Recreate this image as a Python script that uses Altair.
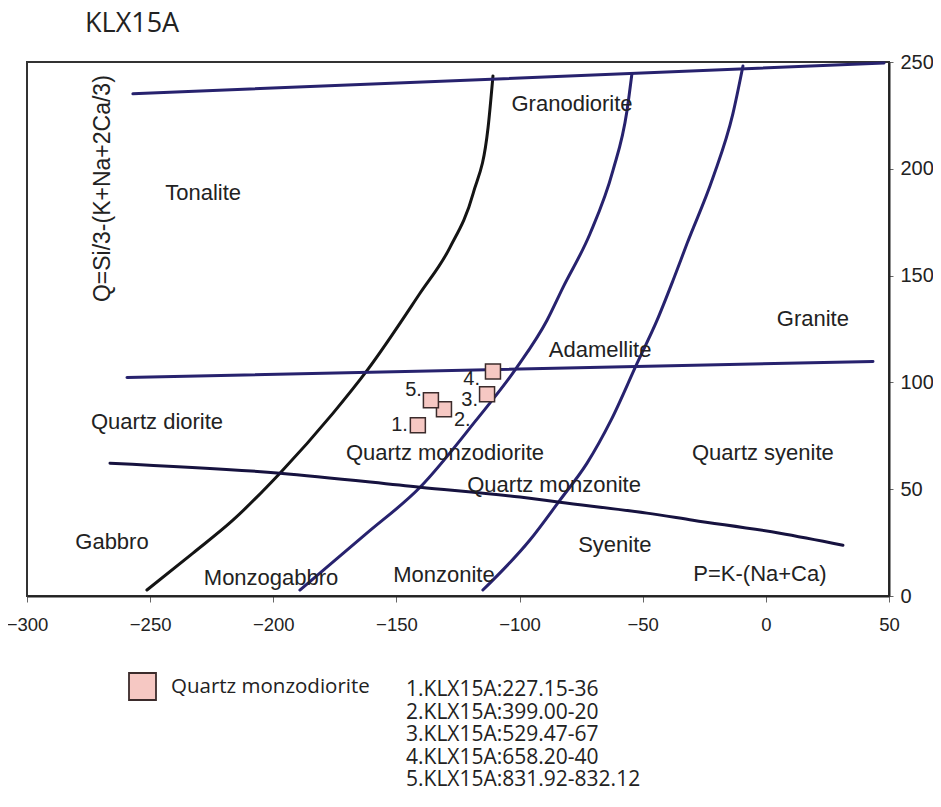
import altair as alt
import pandas as pd

# ---- boundary curves (data coordinates) ----
black_x = [-251.3, -232.6, -216.4, -197.3, -175.8, -161.9, -140.5, -128.3, -118.9, -112.8, -110.8]
black_y = [2.8, 20.1, 35.5, 57.5, 85.5, 105.6, 141.6, 163.1, 188.3, 219.2, 243.5]
navy1_x = [-189.2, -162.0, -140.4, -117.7, -101.1, -88.9, -82.4, -71.4, -62.1, -56.4, -54.4]
navy1_y = [2.8, 29.4, 50.9, 82.2, 107.0, 129.0, 144.4, 169.6, 199.1, 227.1, 244.4]
navy2_x = [-114.9, -95.8, -83.6, -72.6, -62.9, -52.3, -44.2, -37.7, -32.0, -21.5, -13.4, -9.3]
navy2_y = [2.8, 26.2, 44.9, 62.2, 82.2, 108.9, 129.0, 147.7, 165.0, 195.8, 225.7, 248.1]
lower_x = [-266.3, -197.3, -140.4, -99.8, -83.6, -48.3, -29.6, 5.7, 31.3]
lower_y = [62.2, 57.5, 50.9, 46.3, 43.9, 38.8, 35.5, 29.4, 23.8]
top_x = [-257.0, 48.0]
top_y = [235.1, 249.5]
mid_x = [-259.4, 43.5]
mid_y = [102.3, 109.8]

# ---- samples ----
sample_id = ["1.", "2.", "3.", "4.", "5."]
sample_x = [-141.3, -130.7, -113.2, -110.8, -136.0]
sample_y = [79.9, 87.4, 94.4, 105.1, 91.6]
sample_names = ["1.KLX15A:227.15-36", "2.KLX15A:399.00-20", "3.KLX15A:529.47-67",
                "4.KLX15A:658.20-40", "5.KLX15A:831.92-832.12"]
rock_type = "Quartz monzodiorite"
chart_title = "KLX15A"
y_title = "Q=Si/3-(K+Na+2Ca/3)"

# ---- field labels ----
region_names = ["Granodiorite", "Tonalite", "Granite", "Adamellite", "Quartz diorite",
                "Quartz monzodiorite", "Quartz syenite", "Quartz monzonite", "Gabbro",
                "Syenite", "Monzogabbro", "Monzonite", "P=K-(Na+Ca)"]
region_x = [-78.7, -228.5, 19.1, -67.3, -247.2, -130.3, -1.2, -86.0, -265.5, -61.3, -200.9, -130.7, -2.4]
region_y = [230.4, 188.8, 129.9, 115.4, 81.3, 66.8, 66.8, 51.9, 25.2, 23.8, 8.4, 9.8, 10.3]

x_ticks = [-300, -250, -200, -150, -100, -50, 0, 50]
y_ticks = [0, 50, 100, 150, 200, 250]

curves = [("black", black_x, black_y), ("navy1", navy1_x, navy1_y), ("navy2", navy2_x, navy2_y),
          ("lower", lower_x, lower_y), ("top", top_x, top_y), ("mid", mid_x, mid_y)]
rows = []
for name, xs, ys in curves:
    for i, (a, b) in enumerate(zip(xs, ys)):
        rows.append({"curve": name, "i": i, "x": a, "y": b})
lines_df = pd.DataFrame(rows)
curve_colors = ["#141414", "#27226e", "#27226e", "#16123f", "#27226e", "#27226e"]

pts_df = pd.DataFrame({"id": sample_id, "x": sample_x, "y": sample_y, "rock": [rock_type] * 5})
reg_df = pd.DataFrame({"name": region_names, "x": region_x, "y": region_y})

X = alt.X("x:Q", scale=alt.Scale(domain=[-300, 50], nice=False, zero=False),
          axis=alt.Axis(values=x_ticks, title=None, grid=False, labelFont="Liberation Sans",
                        labelFontSize=18.5, labelColor="#222", tickSize=6, tickColor="#666",
                        labelPadding=13, labelFlush=False, labelOverlap=False,
                        domainColor="#222", domainWidth=2))
Y = alt.Y("y:Q", scale=alt.Scale(domain=[0, 250], nice=False, zero=False),
          axis=alt.Axis(values=y_ticks, title=None, grid=False, orient="right",
                        labelFont="Liberation Sans", labelFontSize=20, labelColor="#222",
                        tickSize=4, tickColor="#666", labelPadding=7, labelFlush=False,
                        labelOverlap=False, domainColor="#222", domainWidth=2))

lines = alt.Chart(lines_df).mark_line(strokeWidth=3, interpolate="monotone", strokeCap="round").encode(
    x=X, y=Y, order="i:Q",
    stroke=alt.Stroke("curve:N", scale=alt.Scale(domain=[c[0] for c in curves], range=curve_colors), legend=None),
)

regions = alt.Chart(reg_df).mark_text(font="Liberation Sans", fontSize=22, color="#222",
                                      align="center", baseline="middle").encode(
    x=X, y=Y, text="name:N")

points = alt.Chart(pts_df).mark_point(shape="square", filled=True, size=225, stroke="#3b2b2b",
                                      strokeWidth=1.5, opacity=1).encode(
    x=X, y=Y,
    fill=alt.Fill("rock:N", scale=alt.Scale(domain=[rock_type], range=["#f6c8c3"]),
                  legend=alt.Legend(title=None, orient="none", legendX=101, legendY=610,
                                    symbolType="square", symbolSize=729, symbolStrokeColor="#3b2b2b",
                                    symbolStrokeWidth=1.8, symbolOpacity=1, labelFont="Open Sans",
                                    labelFontSize=20.5, labelColor="#222", labelOffset=14,
                                    labelLimit=0, padding=0)),
)

def lab(sid, dx, dy, align):
    return alt.Chart(pts_df).transform_filter(alt.datum.id == sid).mark_text(
        font="Liberation Sans", fontSize=20, color="#222", align=align, baseline="middle",
        dx=dx, dy=dy).encode(x=X, y=Y, text="id:N")

labels = [lab("1.", -10, 0, "right"), lab("5.", -9, -10, "right"), lab("2.", 10, 11, "left"),
          lab("3.", -9, 6, "right"), lab("4.", -13, 7, "right")]

ytitle = alt.Chart(pd.DataFrame({"x": [-269.1], "y": [190.7]})).mark_text(
    text=y_title, angle=270, font="Liberation Sans", fontSize=23, color="#222",
    align="center", baseline="middle").encode(x=X, y=Y)

title = alt.Chart(pd.DataFrame({"k": [0]})).mark_text(
    text=chart_title, font="Open Sans", fontSize=27, color="#222", align="left", baseline="alphabetic"
).encode(x=alt.value(58), y=alt.value(-30))

names = alt.Chart(pd.DataFrame({"k": [0]})).mark_text(
    font="Open Sans", fontSize=21, color="#222", align="left", baseline="middle", lineHeight=22.5
).encode(x=alt.value(379), y=alt.value(628), text=alt.value(sample_names))

chart = alt.layer(lines, regions, points, *labels, ytitle, title, names).properties(
    width=862, height=534,
    padding={"left": 19, "top": 54, "right": 44, "bottom": 195},
    autosize=alt.AutoSizeParams(type="none"),
).configure_view(stroke="#333", strokeWidth=2)

chart.save("out.html", embed_options={"renderer": "svg", "actions": False})
